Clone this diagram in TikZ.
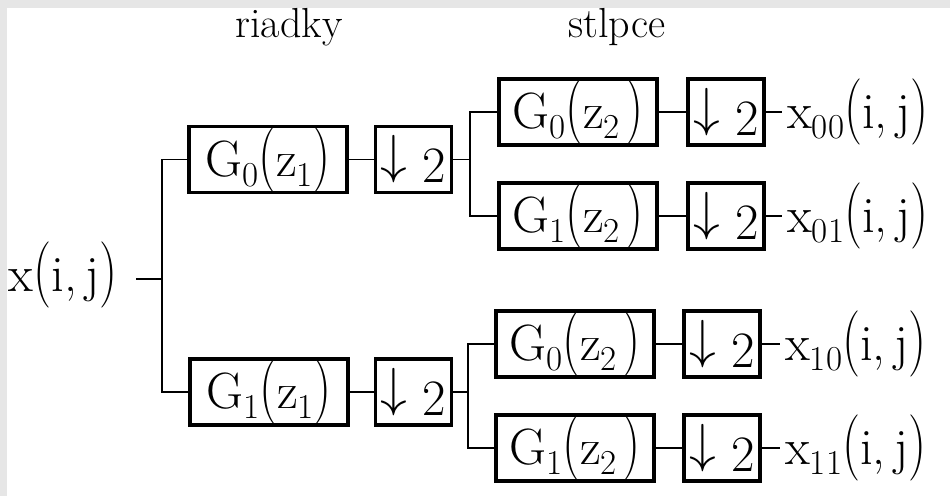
\documentclass[tikz,border=0pt]{standalone}
\usepackage{fix-cm}
\usepackage{graphicx}
\definecolor{bggray}{HTML}{E6E6E6}
\newcommand{\sbx}[1]{\raisebox{-0.2em}{\fontsize{35}{35}\selectfont #1}}
\newcommand{\lp}{\scalebox{1}[1.3]{(}}
\newcommand{\rp}{\scalebox{1}[1.3]{)}}
\newcommand{\dnarr}{\raisebox{0.19em}{\scalebox{1.05}[1.05]{$\downarrow$}}}
\tikzset{
  blk/.style={draw, line width=3.5pt, inner sep=0pt, minimum height=66pt, font=\fontsize{51}{60}\selectfont},
  gbox/.style={blk, minimum width=158pt},
  dbox/.style={blk, minimum width=76pt},
  wire/.style={line width=1.8pt},
  lbl/.style={font=\fontsize{42}{50}\selectfont, inner sep=0pt},
  txt/.style={font=\fontsize{51}{60}\selectfont, inner sep=0pt}
}
\begin{document}
\begin{tikzpicture}[x=1pt,y=-1pt]
\useasboundingbox (0,0) rectangle (950,496);
\fill[bggray] (0,0) rectangle (950,496);
\fill[white] (7,8) rectangle (950,496);

\node[lbl] (riadky) at (289,27) {riadky};
\node[lbl] (stlpce) at (617,27) {stlpce};

\node[txt, anchor=east] (xin) at (118,275) {x\lp i,\,j\rp};
\coordinate (xs) at (136,279);
\coordinate (xf) at (162,279);

\node[gbox] (g0a) at (268,159.5) {G\sbx{0}\lp z\sbx{1}\rp};
\node[dbox] (d0a) at (413.5,159.5) {\dnarr\ 2};
\node[gbox] (g1a) at (269,392) {G\sbx{1}\lp z\sbx{1}\rp};
\node[dbox] (d1a) at (413.5,392) {\dnarr\ 2};

\coordinate (f1) at (470,159.5);
\coordinate (f2) at (468,392);

\node[gbox] (g00) at (578,112) {G\sbx{0}\lp z\sbx{2}\hspace{6pt}\rp};
\node[dbox] (d00) at (726,112) {\dnarr\ 2};
\node[gbox] (g01) at (578,216) {G\sbx{1}\lp z\sbx{2}\hspace{6pt}\rp};
\node[dbox] (d01) at (726,216) {\dnarr\ 2};
\node[gbox] (g10) at (575,344) {G\sbx{0}\lp z\sbx{2}\hspace{6pt}\rp};
\node[dbox] (d10) at (722,344) {\dnarr\ 2};
\node[gbox] (g11) at (575,448) {G\sbx{1}\lp z\sbx{2}\hspace{6pt}\rp};
\node[dbox] (d11) at (722,448) {\dnarr\ 2};

\node[txt, anchor=west, inner xsep=5pt] (o00) at (782,112) {x\sbx{00}\lp i,\,j\rp};
\node[txt, anchor=west, inner xsep=5pt] (o01) at (782,216) {x\sbx{01}\lp i,\,j\rp};
\node[txt, anchor=west, inner xsep=5pt] (o10) at (780,344) {x\sbx{10}\lp i,\,j\rp};
\node[txt, anchor=west, inner xsep=5pt] (o11) at (780,448) {x\sbx{11}\lp i,\,j\rp};

\draw[wire] (xs) -- (xf);
\draw[wire] (g0a.west) -| (xf) |- (g1a.west);
\draw[wire] (g0a) -- (d0a);
\draw[wire] (g1a) -- (d1a);
\draw[wire] (d0a.east) -- (f1);
\draw[wire] (d1a.east) -- (f2);
\draw[wire] (g00.west) -| (f1) |- (g01.west);
\draw[wire] (g10.west) -| (f2) |- (g11.west);
\draw[wire] (g00) -- (d00);
\draw[wire] (g01) -- (d01);
\draw[wire] (g10) -- (d10);
\draw[wire] (g11) -- (d11);
\draw[wire] (d00) -- (o00);
\draw[wire] (d01) -- (o01);
\draw[wire] (d10) -- (o10);
\draw[wire] (d11) -- (o11);
\end{tikzpicture}
\end{document}
